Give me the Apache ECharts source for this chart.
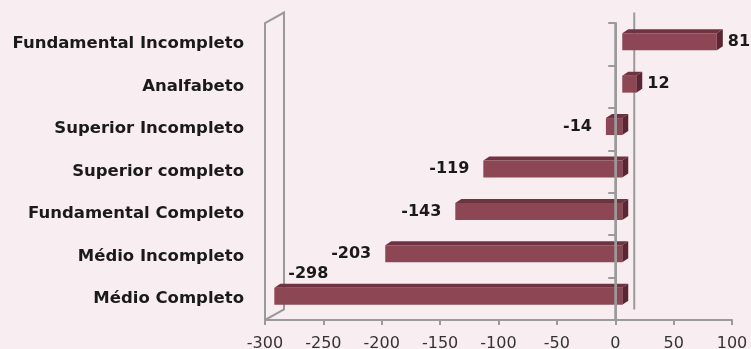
<!DOCTYPE html>
<html>
<head>
<meta charset="utf-8">
<script src="https://cdn.jsdelivr.net/npm/echarts@6/dist/echarts.min.js"></script>
<style>
  html, body { margin: 0; padding: 0; background: #f8eef2; }
  #chart { width: 751px; height: 349px; }
</style>
</head>
<body>
<div id="chart"></div>
<script>
// Education level categories, listed top to bottom
const categories = [
  'Fundamental Incompleto',
  'Analfabeto',
  'Superior Incompleto',
  'Superior completo',
  'Fundamental Completo',
  'Médio Incompleto',
  'Médio Completo'
];
// Balance per category
const values = [81, 12, -14, -119, -143, -203, -298];
// Value axis range and tick step
const xMin = -300;
const xMax = 100;
const xStep = 50;

// 3D look: bars sit a little behind the front plane, the wall is further back
const BAR_DX = 7, BAR_DY = -2.5;      // bar front face offset from front plane
const DEPTH_X = 6, DEPTH_Y = -4;      // bar depth
const WALL_DX = 19, WALL_DY = -10.5;  // back plane offset
const FRONT = '#8c4654', TOP = '#6f3241', SIDE = '#5b2533';
const GRID = { left: 265, right: 19, top: 23, bottom: 29 };
const LINE = '#9a9a9a';
const LABEL_FONT = 'DejaVu Sans';

function renderBar(params, api) {
  const v = api.value(0);
  const ci = api.value(1);
  const p0 = api.coord([0, ci]);
  const p1 = api.coord([v, ci]);
  const pMin = api.coord([xMin, ci]);
  const band = api.size([0, 1])[1];
  const h = band * 0.4;
  const cy = p0[1] + BAR_DY;
  const xL = Math.min(p0[0], p1[0]) + BAR_DX;
  const xR = Math.max(p0[0], p1[0]) + BAR_DX;
  const yT = cy - h / 2, yB = cy + h / 2;

  const top = {
    type: 'polygon',
    shape: { points: [[xL, yT], [xR, yT], [xR + DEPTH_X, yT + DEPTH_Y], [xL + DEPTH_X, yT + DEPTH_Y]] },
    style: { fill: TOP }
  };
  const side = {
    type: 'polygon',
    shape: { points: [[xR, yT], [xR + DEPTH_X, yT + DEPTH_Y], [xR + DEPTH_X, yB + DEPTH_Y], [xR, yB]] },
    style: { fill: SIDE }
  };
  const front = {
    type: 'rect',
    shape: { x: xL, y: yT, width: xR - xL, height: h },
    style: { fill: FRONT }
  };

  let lx, ly = cy, align;
  if (v >= 0) {
    lx = xR + DEPTH_X + 5; align = 'left';
  } else if (xL - 60 < pMin[0]) {
    lx = xL + 14; ly = yT - 14; align = 'left';
  } else {
    lx = xL - 14; align = 'right';
  }
  const label = {
    type: 'text',
    style: {
      x: lx, y: ly, text: String(v),
      fill: '#1a1a1a', font: 'bold 16px "' + LABEL_FONT + '"',
      align: align, verticalAlign: 'middle'
    },
    z2: 10
  };
  return { type: 'group', children: [top, side, front, label] };
}

const chart = echarts.init(document.getElementById('chart'), null, { renderer: 'canvas' });

chart.setOption({
  backgroundColor: '#f8eef2',
  animation: false,
  grid: Object.assign({ containLabel: false, outerBoundsMode: 'none' }, GRID),
  xAxis: {
    type: 'value',
    min: xMin, max: xMax, interval: xStep,
    splitLine: { show: false },
    axisLine: { show: true, onZero: false, lineStyle: { color: LINE, width: 2 } },
    axisTick: { show: true, length: 5, lineStyle: { color: LINE, width: 2 } },
    axisLabel: { color: '#333333', fontSize: 16, fontFamily: 'DejaVu Sans', margin: 16 }
  },
  yAxis: [
    {
      type: 'category',
      data: categories,
      inverse: true,
      position: 'left',
      axisLine: { show: false, onZero: false },
      axisTick: { show: false },
      axisLabel: {
        color: '#1a1a1a', fontSize: 16.5, fontWeight: 'bold',
        fontFamily: LABEL_FONT, margin: 21
      }
    },
    {
      type: 'category',
      data: categories,
      inverse: true,
      position: 'left',
      z: 6,
      axisLine: { show: true, onZero: true, lineStyle: { color: LINE, width: 2 } },
      axisTick: { show: true, length: 7, lineStyle: { color: LINE, width: 2 } },
      axisLabel: { show: false }
    }
  ],
  series: [{
    type: 'custom',
    yAxisIndex: 0,
    renderItem: renderBar,
    encode: { x: 0, y: 1 },
    data: values.map((v, i) => [v, i]),
    z: 3
  }]
});

// Back wall outline, the zero line on the back plane and the zero line in front
const gTop = GRID.top;
const gBottom = 349 - GRID.bottom;
const xLeft = chart.convertToPixel({ xAxisIndex: 0 }, xMin);
const xZero = chart.convertToPixel({ xAxisIndex: 0 }, 0);
chart.setOption({
  graphic: [
    {
      type: 'polyline', z: 1,
      shape: { points: [
        [xLeft, gBottom], [xLeft, gTop], [xLeft + WALL_DX, gTop + WALL_DY],
        [xLeft + WALL_DX, gBottom + WALL_DY], [xLeft, gBottom]
      ] },
      style: { stroke: LINE, lineWidth: 2, fill: null }
    },
    {
      type: 'line', z: 1,
      shape: { x1: xZero + WALL_DX, y1: gTop + WALL_DY, x2: xZero + WALL_DX, y2: gBottom + WALL_DY },
      style: { stroke: LINE, lineWidth: 2 }
    },
    {
      type: 'line', z: 20,
      shape: { x1: xZero, y1: gTop, x2: xZero, y2: gBottom },
      style: { stroke: LINE, lineWidth: 2 }
    }
  ]
});
</script>
</body>
</html>
